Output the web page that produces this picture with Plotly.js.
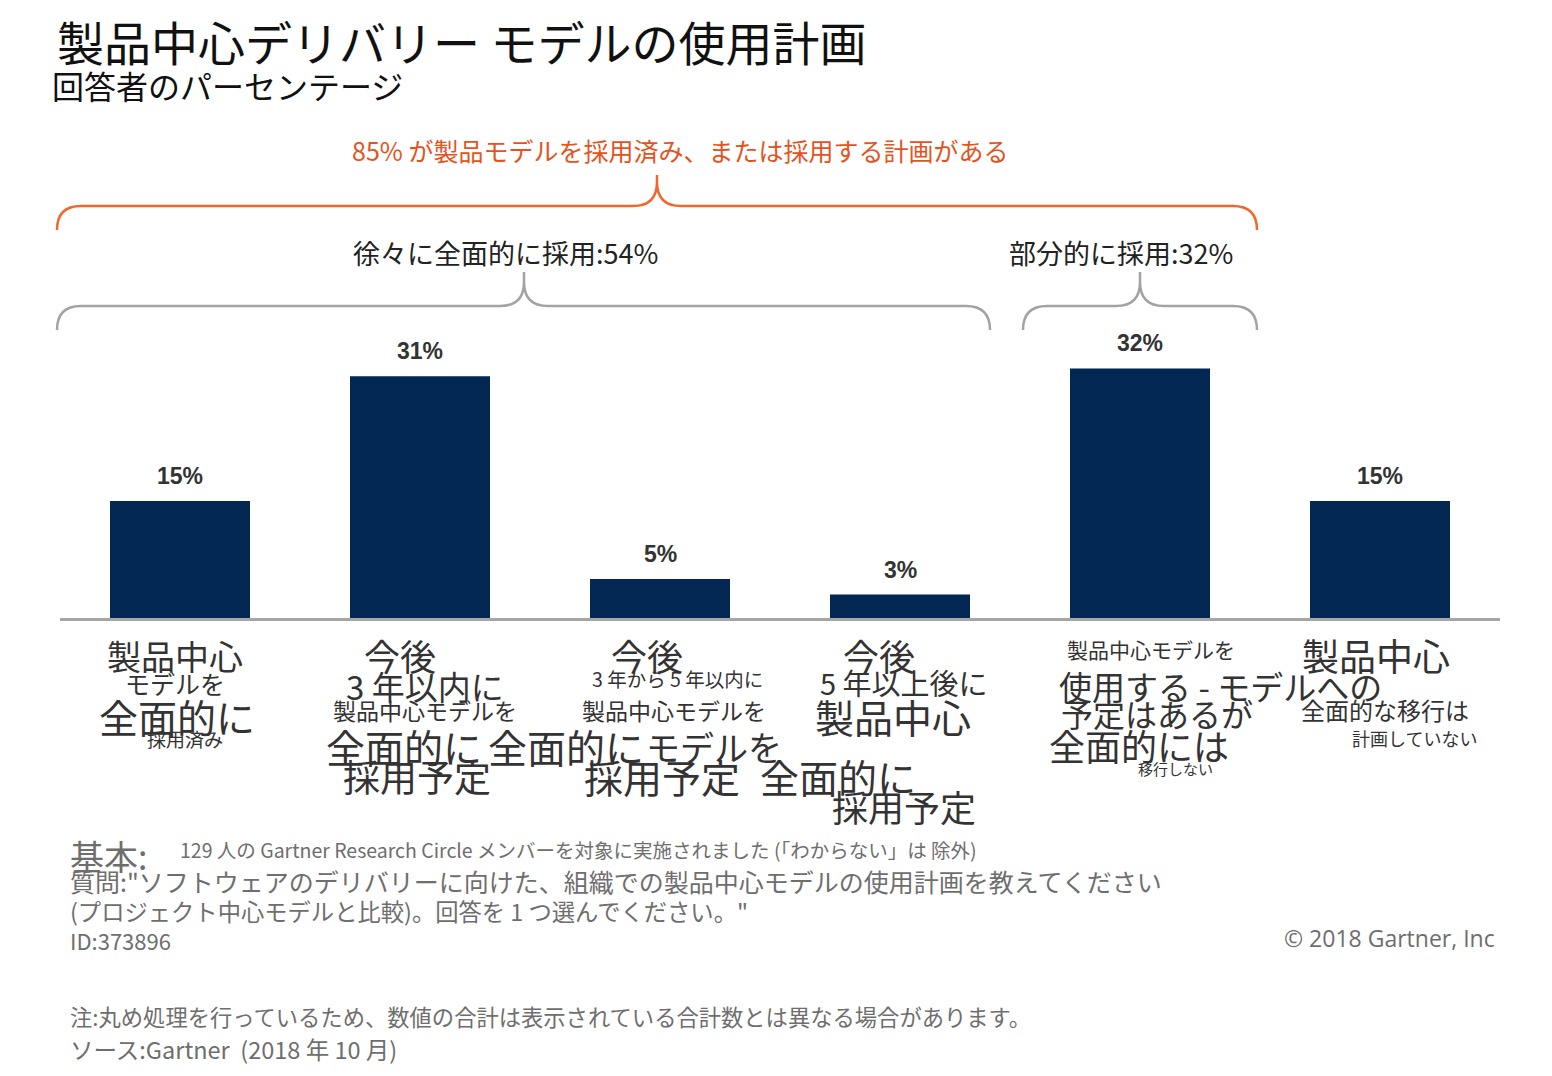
<!DOCTYPE html>
<html>
<head>
<meta charset="utf-8">
<script src="https://cdn.plot.ly/plotly-3.0.1.min.js"></script>
<style>html,body{margin:0;padding:0;background:#fff;}#chart{width:1552px;height:1076px;}</style>
</head>
<body>
<div id="chart"></div>
<script>
// ---- data ----
const categories = [
  '製品中心モデルを全面的に採用済み',
  '今後3年以内に製品中心モデルを全面的に採用予定',
  '今後3年から5年以内に製品中心モデルを全面的に採用予定',
  '今後5年以上後に製品中心モデルを全面的に採用予定',
  '製品中心モデルを使用する予定はあるが全面的には移行しない',
  '製品中心モデルへの全面的な移行は計画していない'
];
const values = [15, 31, 5, 3, 32, 15];
const valueLabels = ['15%', '31%', '5%', '3%', '32%', '15%'];

const titleText = '製品中心デリバリー モデルの使用計画';
const subtitleText = '回答者のパーセンテージ';
const groupAllText = '85% が製品モデルを採用済み、または採用する計画がある';
const groupGradualText = '徐々に全面的に採用:54%';
const groupPartialText = '部分的に採用:32%';

// category label fragments (as they appear in the picture)
const labelFragments = [
  '製品中心', 'モデルを', '全面的に', '採用済み',
  '今後', '3 年以内に', '製品中心モデルを', '全面的に', '採用予定',
  '今後', '3 年から 5 年以内に', '製品中心モデルを', '全面的に', '採用予定',
  '今後', '5 年以上後に', '製品中心', 'モデルを', '全面的に', '採用予定',
  '製品中心モデルを', '使用する - モデルへの', '予定はあるが', '全面的には', '移行しない',
  '製品中心', '全面的な移行は', '計画していない'
];

const footBaseLabel = '基本:';
const footBaseText = '129 人の Gartner Research Circle メンバーを対象に実施されました (「わからない」は 除外)';
const footQuestion1 = '質問:"ソフトウェアのデリバリーに向けた、組織での製品中心モデルの使用計画を教えてください';
const footQuestion2 = '(プロジェクト中心モデルと比較)。回答を 1 つ選んでください。"';
const footId = 'ID:373896';
const footCopyright = '© 2018 Gartner, Inc';
const footNote = '注:丸め処理を行っているため、数値の合計は表示されている合計数とは異なる場合があります。';
const footSource = 'ソース:Gartner  (2018 年 10 月)';

// ---- layout helpers ----
const W = 1552, H = 1076;
const PX = x => x / W;
const PY = y => 1 - y / H;
const JP = '"Noto Sans CJK JP", "Noto Sans", sans-serif';

function pathPx(cmds) {
  return cmds.map(c => {
    const l = c[0]; const pts = [];
    for (let i = 1; i < c.length; i += 2) pts.push(PX(c[i]).toFixed(5) + ',' + PY(c[i + 1]).toFixed(5));
    return l + ' ' + pts.join(' ');
  }).join(' ');
}
function brace(x0, x1, xm, yTop, yLine, yEnd, r) {
  return pathPx([
    ['M', x0, yEnd], ['Q', x0, yLine, x0 + r, yLine], ['L', xm - r, yLine],
    ['Q', xm, yLine, xm, yLine - r], ['L', xm, yTop],
    ['M', xm, yTop], ['L', xm, yLine - r], ['Q', xm, yLine, xm + r, yLine],
    ['L', x1 - r, yLine], ['Q', x1, yLine, x1, yEnd]
  ]);
}

const annotations = [];
function txt(text, x, y, size, color, xanchor, extra) {
  annotations.push(Object.assign({
    text: text, xref: 'paper', yref: 'paper', x: PX(x), y: PY(y),
    xanchor: xanchor || 'center', yanchor: 'middle', showarrow: false,
    font: {family: JP, size: size, color: color}
  }, extra || {}));
}

// titles
txt(titleText, 55, 40, 47, '#111', 'left');
txt(subtitleText, 50, 85, 32, '#111', 'left');
txt(groupAllText, 350, 150, 25, '#e5531c', 'left');
txt(groupGradualText, 505, 253, 27, '#222');
txt(groupPartialText, 1121, 253, 27, '#222');

// value labels above bars (from data)
values.forEach((v, i) => {
  annotations.push({
    text: valueLabels[i], xref: 'x', yref: 'y', x: categories[i], y: v,
    yanchor: 'bottom', yshift: 10, showarrow: false,
    font: {family: '"Liberation Sans", Arial, sans-serif', size: 23, color: '#333', weight: 'bold'}
  });
});

// category label fragment placement [centerX, centerY, fontSize]
const fragPos = [
  [175, 655, 34], [175, 683, 25], [177, 716, 39], [185, 738, 19],
  [400, 655, 36], [425, 686, 33], [425, 710, 23], [404, 746, 39], [417, 776, 37],
  [647, 655, 36], [677, 678, 19.5], [674, 710, 23], [566, 746, 39], [662, 776, 39],
  [879, 655, 36], [904, 682, 29], [893, 716, 39], [714, 746, 34], [838, 776, 39], [904, 806, 36],
  [1151, 649, 21], [1220, 686, 33], [1157, 713, 32], [1139, 745, 36], [1175, 768, 15],
  [1376, 655, 37], [1385, 709, 24], [1414, 738, 18]
];
labelFragments.forEach((t, i) => {
  const p = fragPos[i];
  txt(t, p[0], p[1], p[2], '#333');
});

// footer
const GREY = '#6e6e6e';
txt(footBaseLabel, 68, 855, 34, GREY, 'left');
txt(footBaseText, 178, 849, 19.5, GREY, 'left');
txt(footQuestion1, 68, 881, 25, GREY, 'left');
txt(footQuestion2, 68, 911, 23.3, GREY, 'left');
txt(footId, 68, 940, 22, GREY, 'left');
txt(footCopyright, 1497, 938, 23, GREY, 'right', {font: {family: '"Open Sans", "Noto Sans", sans-serif', size: 23, color: GREY}});
txt(footNote, 68, 1016, 22.3, GREY, 'left');
txt(footSource, 68, 1049, 23.5, GREY, 'left');

const shapes = [
  {type: 'path', xref: 'paper', yref: 'paper', path: brace(57, 1257, 657, 175, 206, 230, 24),
   line: {color: '#f0682c', width: 2.5}},
  {type: 'path', xref: 'paper', yref: 'paper', path: brace(57, 990, 524, 272, 306, 330, 24),
   line: {color: '#a3a3a3', width: 2.5}},
  {type: 'path', xref: 'paper', yref: 'paper', path: brace(1023, 1257, 1140, 272, 306, 330, 24),
   line: {color: '#a3a3a3', width: 2.5}}
];

const trace = {
  type: 'bar', x: categories, y: values,
  marker: {color: '#022752', line: {width: 0}},
  width: 140 / 240, hoverinfo: 'skip'
};

const layout = {
  width: W, height: H, autosize: false,
  margin: {l: 0, r: 0, t: 0, b: 0},
  paper_bgcolor: '#fff', plot_bgcolor: '#fff',
  showlegend: false,
  xaxis: {domain: [PX(60), PX(1500)], range: [-0.5, 5.5], showticklabels: false,
          showgrid: false, zeroline: false, showline: true, linecolor: '#a6a6a6', linewidth: 3,
          ticks: '', type: 'category', fixedrange: true},
  yaxis: {domain: [PY(618), PY(330)], range: [0, 288 / 7.8], showticklabels: false,
          showgrid: false, zeroline: false, showline: false, ticks: '', fixedrange: true},
  annotations: annotations,
  shapes: shapes
};

Plotly.newPlot('chart', [trace], layout, {displayModeBar: false, staticPlot: true});
</script>
</body>
</html>
